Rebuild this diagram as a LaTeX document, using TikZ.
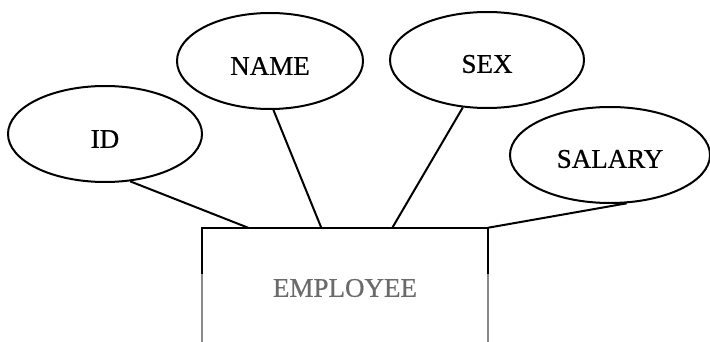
\documentclass[tikz,border=0pt]{standalone}
\usepackage{fontspec}
\setmainfont{Liberation Serif}
\newfontfamily\scanfont[FakeBold=0.6]{Liberation Serif}
\usetikzlibrary{shapes.geometric,calc}
\definecolor{boxgray}{HTML}{8A8A8A}
\definecolor{textgray}{HTML}{6A6A6A}
\begin{document}
\begin{tikzpicture}[x=1pt,y=-1pt,
  attr/.style={draw,ellipse,line width=2pt,inner sep=0pt,
    minimum width=194pt,minimum height=96pt},
  attrtext/.style={font=\scanfont\fontsize{27}{30}\selectfont},
  conn/.style={line width=2pt},
  entity/.style={rectangle,inner sep=0pt,minimum width=285pt,minimum height=120pt,
    font=\scanfont\fontsize{27}{30}\selectfont,text=textgray}]
\useasboundingbox (0,0) rectangle (710,342);
\clip (0,0) rectangle (710,342);
\node[attr,label={[attrtext,yshift=-5pt]center:ID}] (id) at (105,134) {};
\node[attr,minimum width=186pt,label={[attrtext,yshift=-5pt]center:NAME}] (name) at (270,61) {};
\node[attr,label={[attrtext,yshift=-4pt]center:SEX}] (sex) at (487,60) {};
\node[attr,minimum width=200pt,label={[attrtext,yshift=-4pt]center:SALARY}] (salary) at (610,155) {};
\node[entity] (box) at (345,288) {EMPLOYEE};
\coordinate (tid) at ($(box.north west)+(46,0)$);
\coordinate (tname) at ($(box.north west)+(119,0)$);
\coordinate (tsex) at ($(box.north west)+(190,0)$);
\coordinate (lgl) at ($(box.north west)+(0,46)$);
\coordinate (lgr) at ($(box.north east)+(0,46)$);
\draw[boxgray,line width=2pt] (box.south west) -- (lgl);
\draw[boxgray,line width=2pt] (box.south east) -- (lgr);
\draw[line width=2pt] (lgl) -- (box.north west) -- (box.north east) -- (lgr);
\draw[conn] (id.-62) -- (tid);
\draw[conn] (name.-86) -- (tname);
\draw[conn] (sex.-117) -- (tsex);
\draw[conn] (salary.-71) -- (box.north east);
\end{tikzpicture}
\end{document}
